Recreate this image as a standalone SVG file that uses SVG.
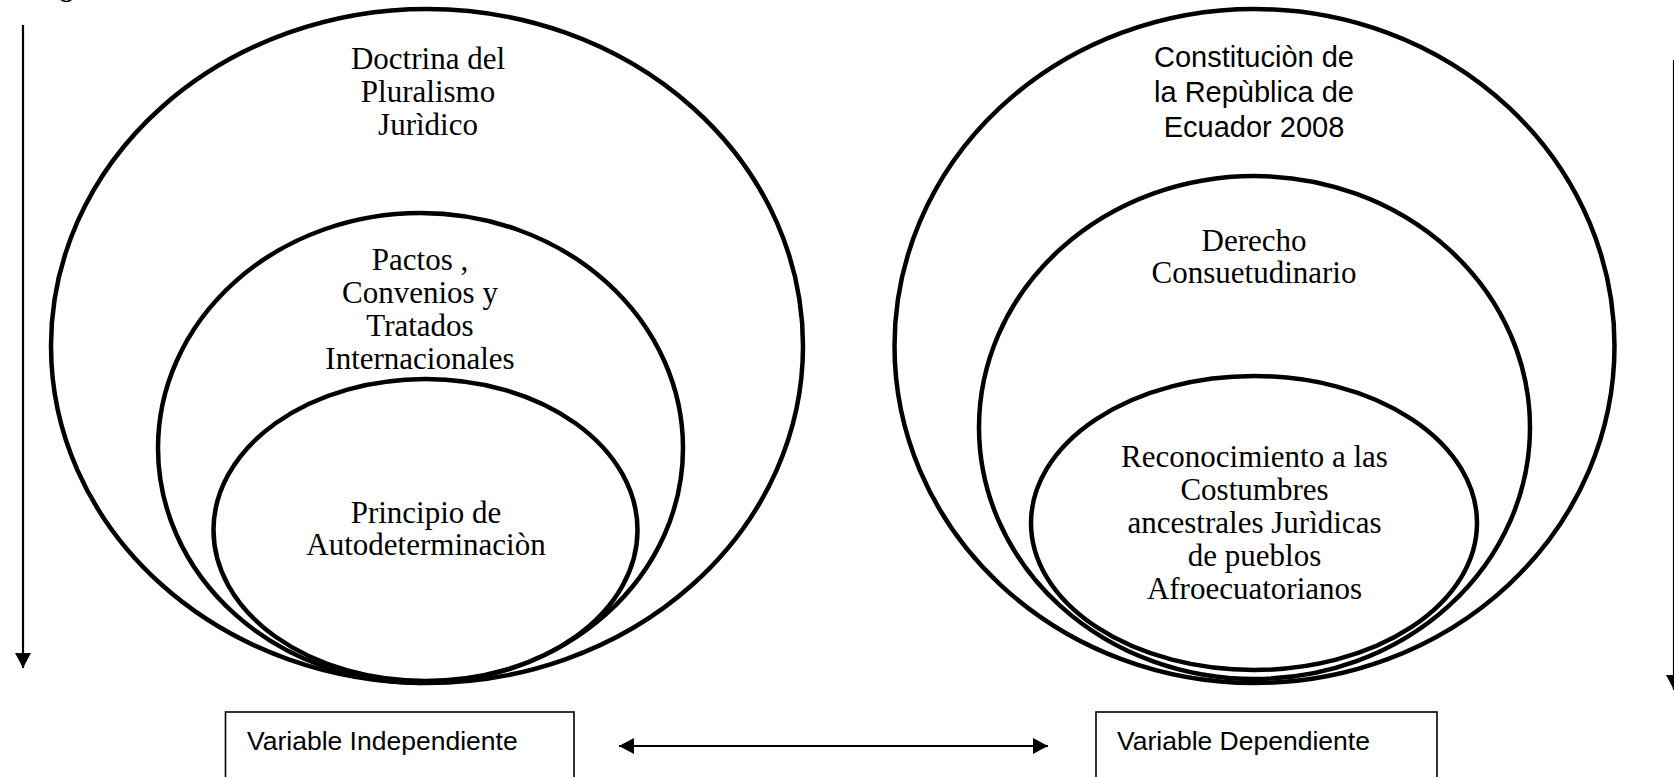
<svg xmlns="http://www.w3.org/2000/svg" width="1674" height="777" viewBox="0 0 1674 777">
<style>
.ring{fill:none;stroke:#000;stroke-width:4.5}
.ser{font-family:"Liberation Serif","Times New Roman",serif;font-size:31px;fill:#000;text-anchor:middle}
.sans{font-family:"Liberation Sans",Arial,sans-serif;font-size:29px;fill:#000;text-anchor:middle}
.lbl{font-family:"Liberation Sans",Arial,sans-serif;font-size:26.5px;fill:#000}
.box{fill:#fff;stroke:#000;stroke-width:1.6}
.con{fill:none;stroke:#000;stroke-width:2.2}
</style>
<defs>
<marker id="ah" viewBox="0 0 15 16" refX="15" refY="8" markerWidth="15" markerHeight="16" markerUnits="userSpaceOnUse" orient="auto-start-reverse">
<path d="M0,0 L15,8 L0,16 z" fill="#000"/>
</marker>
</defs>
<rect width="1674" height="777" fill="#fff"/>
<text x="60" y="-3" font-family="Liberation Serif,serif" font-weight="bold" font-size="26">g</text>

<g id="doctrina">
<ellipse class="ring" cx="427" cy="346" rx="376" ry="337"/>
<text class="ser" x="428" y="69">Doctrina del</text>
<text class="ser" x="428" y="102">Pluralismo</text>
<text class="ser" x="428" y="135">Jurìdico</text>
</g>
<g id="pactos">
<ellipse class="ring" cx="420.5" cy="448" rx="262.5" ry="235"/>
<text class="ser" x="420" y="270">Pactos ,</text>
<text class="ser" x="420" y="303">Convenios y</text>
<text class="ser" x="420" y="336">Tratados</text>
<text class="ser" x="420" y="369">Internacionales</text>
</g>
<g id="principio">
<ellipse class="ring" cx="425.5" cy="530" rx="212" ry="151"/>
<text class="ser" x="426" y="523">Principio de</text>
<text class="ser" x="426" y="555">Autodeterminaciòn</text>
</g>

<g id="constitucion">
<ellipse class="ring" cx="1254.5" cy="346" rx="360" ry="337"/>
<text class="sans" x="1254" y="67">Constituciòn de</text>
<text class="sans" x="1254" y="102">la Repùblica de</text>
<text class="sans" x="1254" y="137">Ecuador 2008</text>
</g>
<g id="derecho">
<ellipse class="ring" cx="1254.5" cy="427.5" rx="275.5" ry="251.5"/>
<text class="ser" x="1254" y="251">Derecho</text>
<text class="ser" x="1254" y="283">Consuetudinario</text>
</g>
<g id="reconocimiento">
<ellipse class="ring" cx="1254" cy="523" rx="223" ry="147"/>
<text class="ser" x="1254.5" y="467">Reconocimiento a las</text>
<text class="ser" x="1254.5" y="500">Costumbres</text>
<text class="ser" x="1254.5" y="533">ancestrales Jurìdicas</text>
<text class="ser" x="1254.5" y="566">de pueblos</text>
<text class="ser" x="1254.5" y="599">Afroecuatorianos</text>
</g>

<g id="var-independiente">
<rect class="box" x="225.5" y="712" width="348.5" height="90"/>
<text class="lbl" x="247" y="750">Variable Independiente</text>
</g>
<g id="var-dependiente">
<rect class="box" x="1096" y="712" width="341" height="90"/>
<text class="lbl" x="1117" y="750">Variable Dependiente</text>
</g>

<g id="connectors">
<line class="con" x1="23" y1="25" x2="23" y2="668" marker-end="url(#ah)"/>
<line class="con" x1="1674" y1="60" x2="1674" y2="690" marker-end="url(#ah)"/>
<line class="con" x1="619" y1="746" x2="1048" y2="746" marker-start="url(#ah)" marker-end="url(#ah)"/>
</g>
</svg>
